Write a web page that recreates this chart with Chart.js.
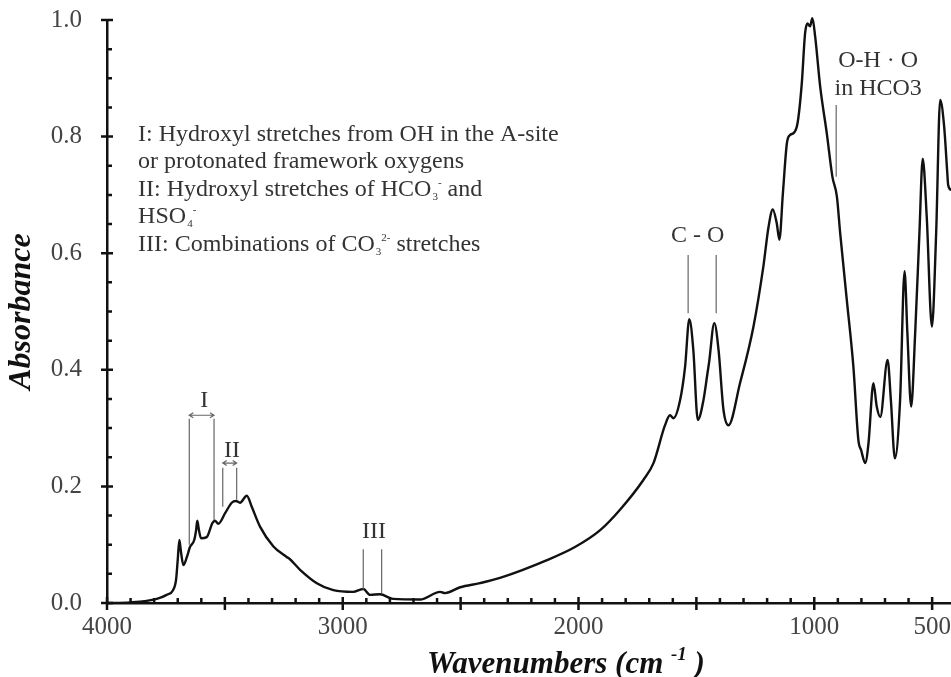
<!DOCTYPE html>
<html>
<head>
<meta charset="utf-8">
<script src="https://cdn.jsdelivr.net/npm/chart.js@4.4.1/dist/chart.umd.min.js"></script>
<style>
  html, body { margin: 0; padding: 0; background: #fff; }
</style>
</head>
<body>
<canvas id="espectro" width="951" height="677"></canvas>
<script>
// Espectro FTIR: absorbancia frente a número de onda

const numerosOnda = [4000, 3902, 3789, 3747, 3720, 3707, 3700, 3693, 3686, 3676,
  3661, 3648, 3630, 3622, 3617, 3610, 3601, 3577, 3553, 3542,
  3528, 3499, 3471, 3453, 3436, 3407, 3386, 3351, 3294, 3238,
  3224, 3181, 3110, 3040, 2956, 2913, 2884, 2842, 2787, 2672,
  2587, 2566, 2502, 2418, 2333, 2131, 2015, 1908, 1824, 1725,
  1682, 1633, 1612, 1597, 1569, 1548, 1530, 1513, 1494, 1470,
  1453, 1446, 1424, 1406, 1385, 1364, 1315, 1258, 1216, 1194,
  1176, 1159, 1148, 1133, 1116, 1102, 1088, 1071, 1053, 1039,
  1029, 1018, 1008, 996, 975, 947, 923, 904, 890, 862,
  834, 813, 801, 784, 770, 749, 735, 720, 689, 675,
  658, 636, 617, 605, 589, 572, 554, 540, 523, 501,
  483, 466, 449, 436, 432, 419];

const absorbancia = [0.000, 0.001, 0.007, 0.014, 0.022, 0.040, 0.074, 0.108, 0.087, 0.065,
  0.079, 0.096, 0.108, 0.125, 0.141, 0.125, 0.111, 0.113, 0.137, 0.141,
  0.136, 0.154, 0.172, 0.175, 0.172, 0.184, 0.165, 0.131, 0.097, 0.079,
  0.075, 0.057, 0.034, 0.022, 0.019, 0.024, 0.014, 0.015, 0.007, 0.006,
  0.019, 0.017, 0.027, 0.034, 0.043, 0.074, 0.096, 0.125, 0.160, 0.211,
  0.240, 0.305, 0.322, 0.317, 0.348, 0.405, 0.487, 0.434, 0.314, 0.348,
  0.394, 0.413, 0.480, 0.434, 0.331, 0.305, 0.377, 0.474, 0.577, 0.645,
  0.675, 0.651, 0.623, 0.703, 0.789, 0.803, 0.806, 0.823, 0.891, 0.977,
  0.994, 0.989, 1.003, 0.971, 0.886, 0.806, 0.731, 0.697, 0.634, 0.520,
  0.405, 0.280, 0.262, 0.240, 0.274, 0.377, 0.337, 0.319, 0.417, 0.348,
  0.248, 0.348, 0.569, 0.463, 0.337, 0.463, 0.634, 0.762, 0.663, 0.474,
  0.634, 0.863, 0.817, 0.739, 0.717, 0.708];

// etiquetas de los ejes
const etiquetasX = [4000, 3000, 2000, 1000, 500];
const etiquetasY = [0.0, 0.2, 0.4, 0.6, 0.8, 1.0];

// líneas guía de las bandas (número de onda, desde, hasta)
const guiaOnda = [3651, 3546, 3509, 3450, 2913, 2835, 1535, 1416, 907];
const guiaDesde = [0.100, 0.142, 0.165, 0.177, 0.023, 0.017, 0.497, 0.497, 0.731];
const guiaHasta = [0.316, 0.316, 0.232, 0.232, 0.092, 0.092, 0.597, 0.597, 0.854];

// flechas dobles: [inicio, fin, absorbancia]
const flechas = [[3651, 3546, 0.322], [3509, 3450, 0.240]];

// rótulos de bandas: [texto, número de onda, absorbancia]
const rotulos = [['I', 3588, 0.336], ['II', 3470, 0.250], ['III', 2867, 0.111],
  ['C - O', 1495, 0.619], ['O-H · O', 729, 0.919], ['in HCO3', 729, 0.871]];

const puntos = numerosOnda.map((x, i) => ({ x, y: absorbancia[i] }));

const SERIF = '"Liberation Serif", "Times New Roman", serif';

// dibuja texto con subíndices / superíndices
function textoMixto(ctx, partes, x, y) {
  let cx = x;
  for (const [t, tipo] of partes) {
    if (tipo === 'sub') {
      ctx.font = '11px ' + SERIF;
      ctx.fillText(t, cx + 1, y + 4);
      cx += ctx.measureText(t).width + 1;
    } else if (tipo === 'sup') {
      ctx.font = '11px ' + SERIF;
      ctx.fillText(t, cx, y - 10);
      cx += ctx.measureText(t).width;
    } else {
      ctx.font = '24px ' + SERIF;
      ctx.fillText(t, cx, y);
      cx += ctx.measureText(t).width;
    }
  }
}

const marcasEjes = {
  id: 'marcasEjes',
  afterDraw(chart) {
    const { ctx, chartArea: a, scales: { x, y } } = chart;
    ctx.save();
    ctx.strokeStyle = '#111';
    ctx.lineWidth = 2.5;
    ctx.beginPath();
    for (let v = 4000; v >= 500; v -= 100) {
      const px = x.getPixelForValue(v);
      if (v % 500 === 0) { ctx.moveTo(px, a.bottom - 6); ctx.lineTo(px, a.bottom + 7); }
      else { ctx.moveTo(px, a.bottom - 5); ctx.lineTo(px, a.bottom); }
    }
    for (let i = 0; i <= 20; i++) {
      const py = y.getPixelForValue(i * 0.05);
      if (i % 4 === 0) { ctx.moveTo(a.left - 6, py); ctx.lineTo(a.left + 6, py); }
      else { ctx.moveTo(a.left, py); ctx.lineTo(a.left + 5, py); }
    }
    ctx.stroke();

    // líneas guía
    ctx.strokeStyle = '#666';
    ctx.lineWidth = 1.2;
    ctx.beginPath();
    guiaOnda.forEach((w, i) => {
      const px = x.getPixelForValue(w);
      ctx.moveTo(px, y.getPixelForValue(guiaDesde[i]));
      ctx.lineTo(px, y.getPixelForValue(guiaHasta[i]));
    });
    for (const [w1, w2, v] of flechas) {
      const x1 = x.getPixelForValue(w1), x2 = x.getPixelForValue(w2), py = y.getPixelForValue(v);
      ctx.moveTo(x1, py); ctx.lineTo(x2, py);
      ctx.moveTo(x1 + 4, py - 2.5); ctx.lineTo(x1, py); ctx.lineTo(x1 + 4, py + 2.5);
      ctx.moveTo(x2 - 4, py - 2.5); ctx.lineTo(x2, py); ctx.lineTo(x2 - 4, py + 2.5);
    }
    ctx.stroke();

    // rótulos
    ctx.fillStyle = '#333';
    ctx.textAlign = 'center';
    ctx.textBaseline = 'alphabetic';
    ctx.font = '24px ' + SERIF;
    for (const [t, w, v] of rotulos) {
      ctx.fillText(t, x.getPixelForValue(w), y.getPixelForValue(v));
    }

    // leyenda de texto
    ctx.textAlign = 'left';
    const lx = x.getPixelForValue(3868);
    const ly = y.getPixelForValue(0.7925);
    const lineas = [
      [['I: Hydroxyl stretches from OH in the A-site']],
      [['or protonated framework oxygens']],
      [['II: Hydroxyl stretches of HCO'], ['3', 'sub'], ['-', 'sup'], [' and']],
      [['HSO'], ['4', 'sub'], ['-', 'sup']],
      [['III: Combinations of CO'], ['3', 'sub'], ['2-', 'sup'], [' stretches']]
    ];
    const saltos = [0, 27.5, 55, 82, 110.5];
    lineas.forEach((l, i) => textoMixto(ctx, l, lx, ly + saltos[i]));

    // título eje x
    ctx.fillStyle = '#111';
    const f1 = 'bold italic 31px ' + SERIF;
    const f2 = 'bold italic 19px ' + SERIF;
    ctx.font = f1;
    const p1 = 'Wavenumbers (cm ';
    const w1 = ctx.measureText(p1).width;
    const w3 = ctx.measureText(' )').width;
    ctx.font = f2;
    const w2 = ctx.measureText('-1').width;
    let tx = 566 - (w1 + w2 + w3) / 2;
    ctx.font = f1;
    ctx.fillText(p1, tx, 673);
    ctx.font = f2;
    ctx.fillText('-1', tx + w1, 660);
    ctx.font = f1;
    ctx.fillText(' )', tx + w1 + w2, 673);
    ctx.restore();
  }
};

new Chart(document.getElementById('espectro'), {
  type: 'line',
  data: {
    datasets: [{
      data: puntos,
      borderColor: '#111',
      borderWidth: 2.4,
      pointRadius: 0,
      cubicInterpolationMode: 'monotone',
      clip: false
    }]
  },
  options: {
    responsive: false,
    devicePixelRatio: 1,
    animation: false,
    layout: { padding: { top: 20, right: 0, bottom: 0, left: 0 } },
    plugins: { legend: { display: false }, tooltip: { enabled: false } },
    scales: {
      x: {
        type: 'linear',
        reverse: true,
        min: 420,
        max: 4000,
        afterBuildTicks: s => { s.ticks = etiquetasX.map(v => ({ value: v })); },
        afterFit: s => { s.height = 74; s.paddingLeft = 0; s.paddingRight = 0; },
        grid: { display: false, drawTicks: false },
        border: { display: true, color: '#111', width: 2.5 },
        ticks: {
          autoSkip: false, maxRotation: 0, padding: 9, color: '#444',
          font: { family: SERIF, size: 25 },
          callback: v => String(v)
        }
      },
      y: {
        min: 0,
        max: 1,
        afterBuildTicks: s => { s.ticks = etiquetasY.map(v => ({ value: v })); },
        afterFit: s => { s.width = 107; s.paddingTop = 0; s.paddingBottom = 0; },
        grid: { display: false, drawTicks: false },
        border: { display: true, color: '#111', width: 2.5 },
        title: {
          display: true, text: 'Absorbance', color: '#111',
          font: { family: SERIF, size: 32, style: 'italic', weight: 'bold' },
          padding: { top: 3, bottom: 0 }
        },
        ticks: {
          padding: 25, color: '#444',
          font: { family: SERIF, size: 25 },
          callback: v => Number(v).toFixed(1)
        }
      }
    }
  },
  plugins: [marcasEjes]
});
</script>
</body>
</html>
